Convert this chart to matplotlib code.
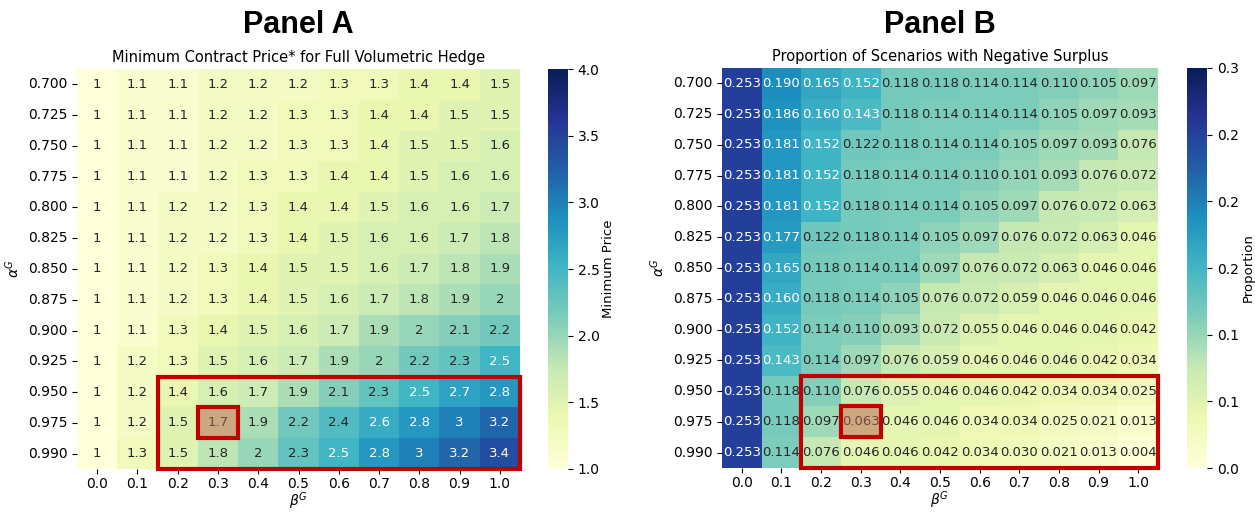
import numpy as np
import matplotlib
matplotlib.use('Agg')
import matplotlib.pyplot as plt
import seaborn as sns
from matplotlib.patches import Rectangle
from matplotlib.ticker import FormatStrFormatter

# Axis values
alpha_g = ['0.700', '0.725', '0.750', '0.775', '0.800', '0.825', '0.850',
           '0.875', '0.900', '0.925', '0.950', '0.975', '0.990']
beta_g = ['0.0', '0.1', '0.2', '0.3', '0.4', '0.5', '0.6', '0.7', '0.8', '0.9', '1.0']

# Panel A: minimum contract price for full volumetric hedge
min_price = [
    [1, 1.1, 1.1, 1.2, 1.2, 1.2, 1.3, 1.3, 1.4, 1.4, 1.5],
    [1, 1.1, 1.1, 1.2, 1.2, 1.3, 1.3, 1.4, 1.4, 1.5, 1.5],
    [1, 1.1, 1.1, 1.2, 1.2, 1.3, 1.3, 1.4, 1.5, 1.5, 1.6],
    [1, 1.1, 1.1, 1.2, 1.3, 1.3, 1.4, 1.4, 1.5, 1.6, 1.6],
    [1, 1.1, 1.2, 1.2, 1.3, 1.4, 1.4, 1.5, 1.6, 1.6, 1.7],
    [1, 1.1, 1.2, 1.2, 1.3, 1.4, 1.5, 1.6, 1.6, 1.7, 1.8],
    [1, 1.1, 1.2, 1.3, 1.4, 1.5, 1.5, 1.6, 1.7, 1.8, 1.9],
    [1, 1.1, 1.2, 1.3, 1.4, 1.5, 1.6, 1.7, 1.8, 1.9, 2],
    [1, 1.1, 1.3, 1.4, 1.5, 1.6, 1.7, 1.9, 2, 2.1, 2.2],
    [1, 1.2, 1.3, 1.5, 1.6, 1.7, 1.9, 2, 2.2, 2.3, 2.5],
    [1, 1.2, 1.4, 1.6, 1.7, 1.9, 2.1, 2.3, 2.5, 2.7, 2.8],
    [1, 1.2, 1.5, 1.7, 1.9, 2.2, 2.4, 2.6, 2.8, 3, 3.2],
    [1, 1.3, 1.5, 1.8, 2, 2.3, 2.5, 2.8, 3, 3.2, 3.4],
]

# Panel B: proportion of scenarios with negative surplus
neg_surplus = [
    [0.253, 0.190, 0.165, 0.152, 0.118, 0.118, 0.114, 0.114, 0.110, 0.105, 0.097],
    [0.253, 0.186, 0.160, 0.143, 0.118, 0.114, 0.114, 0.114, 0.105, 0.097, 0.093],
    [0.253, 0.181, 0.152, 0.122, 0.118, 0.114, 0.114, 0.105, 0.097, 0.093, 0.076],
    [0.253, 0.181, 0.152, 0.118, 0.114, 0.114, 0.110, 0.101, 0.093, 0.076, 0.072],
    [0.253, 0.181, 0.152, 0.118, 0.114, 0.114, 0.105, 0.097, 0.076, 0.072, 0.063],
    [0.253, 0.177, 0.122, 0.118, 0.114, 0.105, 0.097, 0.076, 0.072, 0.063, 0.046],
    [0.253, 0.165, 0.118, 0.114, 0.114, 0.097, 0.076, 0.072, 0.063, 0.046, 0.046],
    [0.253, 0.160, 0.118, 0.114, 0.105, 0.076, 0.072, 0.059, 0.046, 0.046, 0.046],
    [0.253, 0.152, 0.114, 0.110, 0.093, 0.072, 0.055, 0.046, 0.046, 0.046, 0.042],
    [0.253, 0.143, 0.114, 0.097, 0.076, 0.059, 0.046, 0.046, 0.046, 0.042, 0.034],
    [0.253, 0.118, 0.110, 0.076, 0.055, 0.046, 0.046, 0.042, 0.034, 0.034, 0.025],
    [0.253, 0.118, 0.097, 0.063, 0.046, 0.046, 0.034, 0.034, 0.025, 0.021, 0.013],
    [0.253, 0.114, 0.076, 0.046, 0.046, 0.042, 0.034, 0.030, 0.021, 0.013, 0.004],
]

# highlighted region (rows alpha >= 0.95, cols beta >= 0.2) and chosen cell
hl_rows = ['0.950', '0.975', '0.990']
hl_cols = beta_g[2:]
pick = ('0.975', '0.3')

red = '#c00000'

fig = plt.figure(figsize=(12.55, 5.12), dpi=100)

W, H = 1255.0, 512.0
def box(x0, y0, x1, y1):
    return [x0 / W, 1 - y1 / H, (x1 - x0) / W, (y1 - y0) / H]

panels = [
    dict(ax=box(77, 69, 520, 469), cax=box(548, 69, 568, 469), data=min_price,
         fmt='.2g', vmin=1.0, vmax=4.0, ticks=np.arange(1.0, 4.01, 0.5),
         cbl='Minimum Price', title='Minimum Contract Price* for Full Volumetric Hedge',
         head='Panel A', fs=9.5),
    dict(ax=box(722, 68, 1158, 468), cax=box(1187, 68, 1207, 468), data=neg_surplus,
         fmt='.3f', vmin=0.0, vmax=0.3, ticks=np.arange(0.0, 0.301, 0.05),
         cbl='Proportion', title='Proportion of Scenarios with Negative Surplus',
         head='Panel B', fs=9.5),
]

for p in panels:
    ax = fig.add_axes(p['ax'])
    cax = fig.add_axes(p['cax'])
    sns.heatmap(np.array(p['data']), annot=True, fmt=p['fmt'], cmap='YlGnBu',
                vmin=p['vmin'], vmax=p['vmax'], ax=ax, cbar_ax=cax,
                xticklabels=beta_g, yticklabels=alpha_g,
                annot_kws={'fontsize': p['fs']})
    ax.set_yticklabels(alpha_g, rotation=0, fontsize=10)
    ax.set_xticklabels(beta_g, rotation=0, fontsize=10)
    ax.tick_params(axis='x', pad=2)
    ax.set_xlabel(r'$\beta^G$', fontsize=10, labelpad=0)
    ax.set_ylabel(r'$\alpha^G$', fontsize=10)
    ax.set_title(p['title'], fontsize=10.5, pad=5)

    cb = ax.collections[0].colorbar
    cb.set_ticks(p['ticks'])
    cb.ax.yaxis.set_major_formatter(FormatStrFormatter('%.1f'))
    cb.ax.tick_params(labelsize=10)
    cb.set_label(p['cbl'], fontsize=9.5, labelpad=2)
    cb.outline.set_visible(False)

    # red highlight boxes
    r0 = alpha_g.index(hl_rows[0])
    c0 = beta_g.index(hl_cols[0])
    ax.add_patch(Rectangle((c0, r0), len(hl_cols), len(hl_rows), fill=False,
                           edgecolor=red, lw=3, clip_on=False, zorder=5))
    pr = alpha_g.index(pick[0])
    pc = beta_g.index(pick[1])
    ax.add_patch(Rectangle((pc, pr), 1, 1, facecolor=(0.78, 0.40, 0.32, 0.5),
                           edgecolor=red, lw=3, clip_on=False, zorder=6))

    pos = ax.get_position()
    fig.text(pos.x0 + pos.width / 2, 1 - 25 / H, p['head'], ha='center', va='center',
             fontsize=22, fontweight='bold', family='Liberation Sans')

fig.savefig('out.png', dpi=100)
